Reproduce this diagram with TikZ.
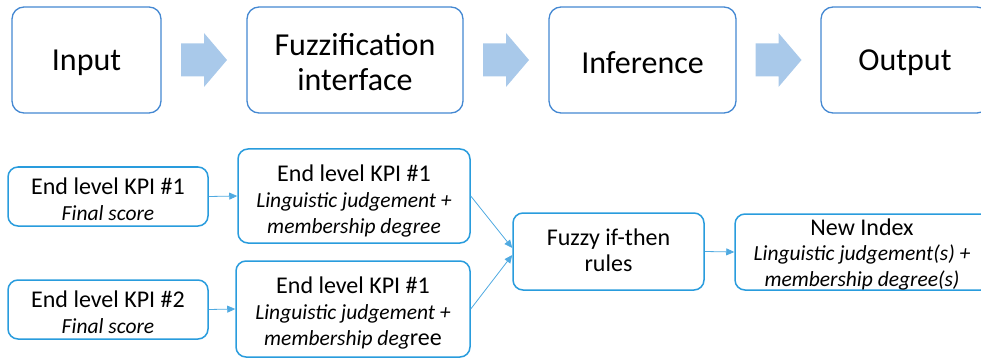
\documentclass[tikz,border=0pt]{standalone}
\usepackage{fontspec}
\setmainfont{Carlito}
\usetikzlibrary{arrows.meta,calc}

\definecolor{stageline}{RGB}{68,136,210}
\definecolor{boxline}{RGB}{41,156,221}
\definecolor{linkline}{RGB}{80,170,225}
\definecolor{arrowfill}{RGB}{169,201,234}

\newcommand{\itl}[1]{{\fontsize{21.5}{26}\selectfont\itshape #1}}

\tikzset{
  stage/.style={draw=stageline, line width=1.3pt, rounded corners=12pt,
    fill=white, inner sep=0pt, minimum height=106pt},
  stagetext/.style={align=center, inner sep=0pt,
    font=\fontsize{32}{35}\selectfont},
  infobox/.style={draw=boxline, line width=1.5pt, rounded corners=10pt,
    fill=white, inner sep=0pt},
  infotext/.style={align=center, inner sep=0pt,
    font=\fontsize{24}{26}\selectfont},
  link/.style={draw=linkline, line width=0.8pt,
    -{Triangle[length=8pt,width=7pt]}},
  pics/flowarrow/.style={code={
    \fill[arrowfill] (-23,-16.5) -- (0,-16.5) -- (0,-27) -- (23,0)
      -- (0,27) -- (0,16.5) -- (-23,16.5) -- cycle;}}
}

\begin{document}
\begin{tikzpicture}[x=1pt,y=-1pt]
  \useasboundingbox (0,0) rectangle (981,358);
  \begin{scope}
    \clip (0,0) rectangle (981,358);

    % processing stages
    \node[stage, minimum width=149pt] (input) at (86.5,60) {};
    \node[stage, minimum width=216pt] (fuzz) at (355,60) {};
    \node[stage, minimum width=187pt] (infer) at (642.5,60) {};
    \node[stage, minimum width=168pt] (output) at (905,60) {};
    \node[stagetext] (inputtxt) at ([yshift=-3pt]input.center) {Input};
    \node[stagetext] (fuzztxt) at ([yshift=-2pt]fuzz.center) {Fuzzification\\interface};
    \node[stagetext] (infertxt) at ([yshift=-3pt]infer.center) {Inference};
    \node[stagetext] (outputtxt) at ([yshift=-3pt]output.center) {Output};

    % block arrows between stages
    \pic at ($(input.east)!0.5!(fuzz.west)$) {flowarrow};
    \pic at ($(fuzz.east)!0.5!(infer.west)$) {flowarrow};
    \pic at ($(infer.east)!0.5!(output.west)$) {flowarrow};

    % inputs
    \node[infobox, minimum width=200pt, minimum height=59pt] (kpa) at (108,196.5) {};
    \node[infobox, minimum width=200pt, minimum height=59pt] (kpb) at (108,309.5) {};
    \node[infotext] (kpatxt) at ([yshift=-3pt]kpa.center)
      {End level KPI \#1\\\itl{Final score}};
    \node[infotext] (kpbtxt) at ([yshift=-3pt]kpb.center)
      {End level KPI \#2\\\itl{Final score}};

    % fuzzified inputs
    \node[infobox, minimum width=232pt, minimum height=94pt] (fza) at (354,196) {};
    \node[infobox, minimum width=234pt, minimum height=96pt] (fzb) at (353,309) {};
    \node[infotext] (fzatxt) at ([yshift=-5pt]fza.center)
      {End level KPI \#1\\\itl{Linguistic judgement +}\\\itl{membership degree}};
    \node[infotext] (fzbtxt) at ([yshift=-4.5pt]fzb.center)
      {End level KPI \#1\\\itl{Linguistic judgement +}\\\itl{membership deg}ree};

    % rule base
    \node[infobox, minimum width=191pt, minimum height=77pt] (rules) at (608.5,251.5) {};
    \node[infotext] (rulestxt) at ([yshift=1pt]rules.center) {Fuzzy if-then\\rules};

    % resulting index
    \node[infobox, minimum width=256pt, minimum height=76pt] (newidx) at (863,252) {};
    \node[infotext, font=\fontsize{24}{25.5}\selectfont, anchor=north]
      (newtxt) at (862,218.5)
      {New Index\\\itl{Linguistic judgement(s) +}\\\itl{membership degree(s)}};

    % connectors
    \draw[link] (kpa.east) -- (fza.west);
    \draw[link] (kpb.east) -- (fzb.west);
    \draw[link] (fza.east) -- ([yshift=3.5pt]rules.west);
    \draw[link] (fzb.east) -- ([yshift=-3.5pt]rules.west);
    \draw[link] (rules.east) -- (newidx.west);
  \end{scope}
\end{tikzpicture}
\end{document}
